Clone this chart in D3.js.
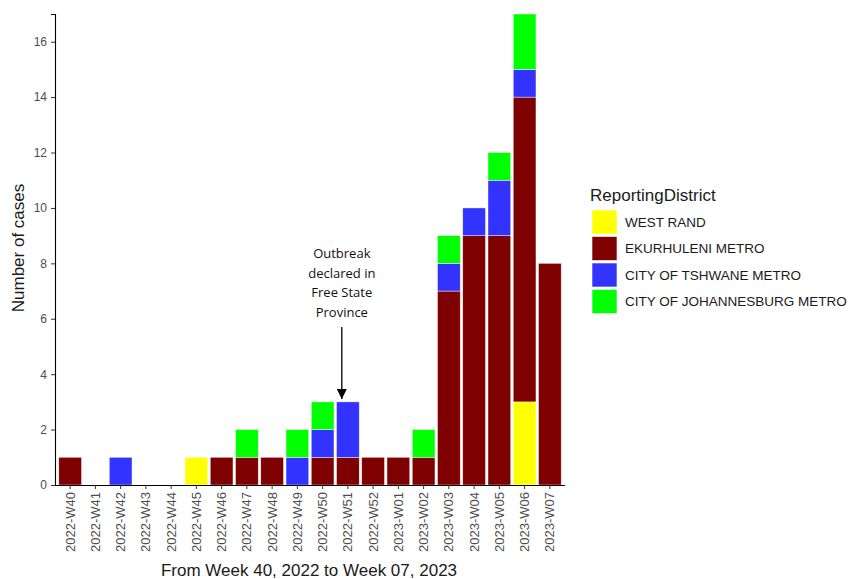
<!DOCTYPE html>
<html>
<head>
<meta charset="utf-8">
<script src="https://cdn.jsdelivr.net/npm/d3@7"></script>
<style>
    body { margin: 0; background: #fff; }
    svg { font-family: "Liberation Sans", Arial, sans-serif; }
</style>
</head>
<body>
<div id="chart"></div>
<script>
// weeks on the x axis
var weeks = ["2022-W40", "2022-W41", "2022-W42", "2022-W43", "2022-W44", "2022-W45",
    "2022-W46", "2022-W47", "2022-W48", "2022-W49", "2022-W50", "2022-W51", "2022-W52",
    "2023-W01", "2023-W02", "2023-W03", "2023-W04", "2023-W05", "2023-W06", "2023-W07"];

// districts, in stacking order (bottom first)
var districts = ["WEST RAND", "EKURHULENI METRO", "CITY OF TSHWANE METRO", "CITY OF JOHANNESBURG METRO"];
var colors = ["#ffff00", "#7f0000", "#3333ff", "#00ff00"];

// cases per week for each district
var westRand     = [0, 0, 0, 0, 0, 1, 0, 0, 0, 0, 0, 0, 0, 0, 0, 0, 0, 0, 3, 0];
var ekurhuleni   = [1, 0, 0, 0, 0, 0, 1, 1, 1, 0, 1, 1, 1, 1, 1, 7, 9, 9, 11, 8];
var tshwane      = [0, 0, 1, 0, 0, 0, 0, 0, 0, 1, 1, 2, 0, 0, 0, 1, 1, 2, 1, 0];
var johannesburg = [0, 0, 0, 0, 0, 0, 0, 1, 0, 1, 1, 0, 0, 0, 1, 1, 0, 1, 2, 0];

var yTicks = [0, 2, 4, 6, 8, 10, 12, 14, 16];
var annotationLines = ["Outbreak", "declared in", "Free State", "Province"];

drawChart();

function drawChart() {
    var W = 848, H = 579;
    var margin = { top: 14, right: 283, bottom: 94, left: 55 };
    var width = W - margin.left - margin.right,
        height = H - margin.top - margin.bottom;

    var svg = d3.select("#chart")
        .append("svg")
        .attr("width", W)
        .attr("height", H)
        .append("g")
        .attr("transform", "translate(" + margin.left + "," + margin.top + ")");

    // build rows for d3.stack
    var series = [westRand, ekurhuleni, tshwane, johannesburg];
    var rows = weeks.map(function (w, i) {
        var r = { week: w };
        districts.forEach(function (d, k) { r[d] = series[k][i]; });
        return r;
    });
    var stacked = d3.stack().keys(districts)(rows);

    // X axis (ggplot style discrete expansion 0.6)
    var step = width / (weeks.length + 0.2);
    var x = d3.scaleBand()
        .domain(weeks)
        .range([0.6 * step - step / 2, width - 0.6 * step + step / 2])
        .paddingInner(0.1)
        .paddingOuter(0.05);

    var y = d3.scaleLinear()
        .domain([0, 17])
        .range([height, 0]);

    // Bars
    svg.selectAll("g.layer")
        .data(stacked)
        .enter()
        .append("g")
        .attr("class", "layer")
        .attr("fill", function (d, i) { return colors[i]; })
        .selectAll("rect")
        .data(function (d) { return d.filter(function (p) { return p[1] > p[0]; }); })
        .enter()
        .append("rect")
        .attr("x", function (d) { return x(d.data.week); })
        .attr("y", function (d) { return y(d[1]); })
        .attr("width", x.bandwidth())
        .attr("height", function (d) { return y(d[0]) - y(d[1]); })
        .attr("stroke", "#ffffff")
        .attr("stroke-opacity", 0.7)
        .attr("stroke-width", 0.6);

    // X axis
    var xAxis = svg.append("g")
        .attr("transform", "translate(0," + height + ")")
        .call(d3.axisBottom(x).tickSizeOuter(0).tickSize(4).tickPadding(3));
    xAxis.select(".domain").attr("d", "M0,0.5H" + width).attr("stroke", "#000").attr("stroke-width", 1.1);
    xAxis.selectAll(".tick line").attr("stroke", "#333");
    xAxis.selectAll("text")
        .attr("transform", "rotate(-90)")
        .attr("x", -7)
        .attr("y", 0)
        .attr("dy", "0.35em")
        .style("text-anchor", "end")
        .style("font-size", "13px")
        .attr("fill", "#4d4d4d");

    // Y axis
    var yAxis = svg.append("g")
        .call(d3.axisLeft(y).tickValues(yTicks).tickSizeOuter(0).tickSize(4).tickPadding(4));
    yAxis.select(".domain").attr("stroke", "#000").attr("stroke-width", 1.1);
    yAxis.selectAll(".tick line").attr("stroke", "#333");
    yAxis.selectAll("text")
        .style("font-size", "12px")
        .attr("fill", "#4d4d4d");

    // axis titles
    svg.append("text")
        .attr("transform", "rotate(-90)")
        .attr("x", -(248 - margin.top))
        .attr("y", 24 - margin.left)
        .style("text-anchor", "middle")
        .style("font-size", "17px")
        .attr("fill", "#1a1a1a")
        .text("Number of cases");

    svg.append("text")
        .attr("x", 309 - margin.left)
        .attr("y", 576 - margin.top)
        .style("text-anchor", "middle")
        .style("font-size", "17px")
        .attr("fill", "#1a1a1a")
        .text("From Week 40, 2022 to Week 07, 2023");

    // annotation + arrow, placed in data coordinates
    var ax = x("2022-W51") + x.bandwidth() / 2 - 0.24 * step;
    var note = svg.append("g").attr("class", "annotation");
    note.selectAll("text")
        .data(annotationLines)
        .enter()
        .append("text")
        .attr("x", ax)
        .attr("y", function (d, i) { return y(8.35) + i * 19.5; })
        .attr("dy", "0.35em")
        .style("text-anchor", "middle")
        .style("font-family", "'Open Sans', 'Noto Sans', sans-serif")
        .style("font-size", "13px")
        .attr("fill", "#111")
        .text(function (d) { return d; });

    var defs = svg.append("defs");
    defs.append("marker")
        .attr("id", "arrowhead")
        .attr("viewBox", "0 0 10 10")
        .attr("refX", 10)
        .attr("refY", 5)
        .attr("markerWidth", 10)
        .attr("markerHeight", 10)
        .attr("markerUnits", "userSpaceOnUse")
        .attr("orient", "auto")
        .append("path")
        .attr("d", "M0,0L10,5L0,10Z")
        .attr("fill", "#000");

    note.append("line")
        .attr("x1", ax).attr("x2", ax)
        .attr("y1", y(5.7)).attr("y2", y(3.1))
        .attr("stroke", "#000")
        .attr("stroke-width", 1.3)
        .attr("marker-end", "url(#arrowhead)");

    // Legend
    var legend = svg.append("g")
        .attr("transform", "translate(" + (590 - margin.left) + "," + (186 - margin.top) + ")");
    legend.append("text")
        .attr("x", 0)
        .attr("y", 15)
        .style("font-size", "17px")
        .attr("fill", "#1a1a1a")
        .text("ReportingDistrict");

    var items = legend.selectAll("g.item")
        .data(districts)
        .enter()
        .append("g")
        .attr("class", "item")
        .attr("transform", function (d, i) { return "translate(2," + (24 + i * 26.5) + ")"; });
    items.append("rect")
        .attr("width", 25)
        .attr("height", 24)
        .attr("fill", function (d, i) { return colors[i]; })
        .attr("stroke", "#fff")
        .attr("stroke-width", 0.6);
    items.append("text")
        .attr("x", 33)
        .attr("y", 12)
        .attr("dy", "0.35em")
        .style("font-size", "13.5px")
        .attr("fill", "#1a1a1a")
        .text(function (d) { return d; });
}
</script>
</body>
</html>
